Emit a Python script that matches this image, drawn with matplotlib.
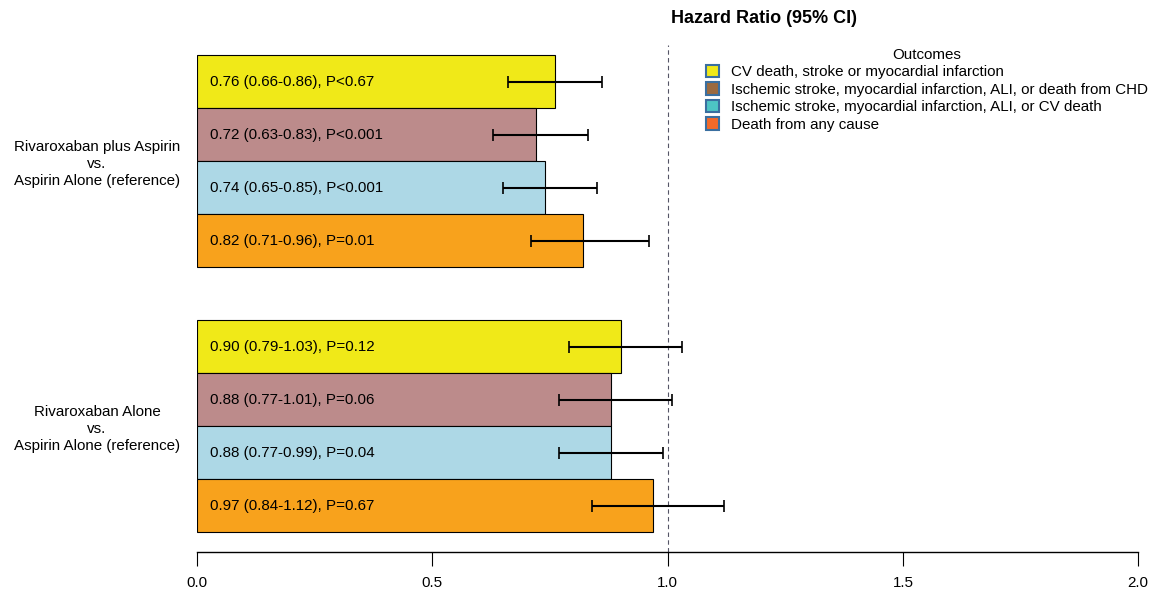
import numpy as np
import matplotlib.pyplot as plt
from matplotlib.patches import Patch

plt.rcParams['font.family'] = ['Liberation Sans', 'DejaVu Sans']

# 数据
groups = ['Rivaroxaban plus Aspirin\nvs.\nAspirin Alone (reference)',
          'Rivaroxaban Alone\nvs.\nAspirin Alone (reference)']
outcomes = ['CV death, stroke or myocardial infarction',
            'Ischemic stroke, myocardial infarction, ALI, or death from CHD',
            'Ischemic stroke, myocardial infarction, ALI, or CV death',
            'Death from any cause']
hr = [[0.76, 0.72, 0.74, 0.82],
      [0.90, 0.88, 0.88, 0.97]]
lo = [[0.66, 0.63, 0.65, 0.71],
      [0.79, 0.77, 0.77, 0.84]]
hi = [[0.86, 0.83, 0.85, 0.96],
      [1.03, 1.01, 0.99, 1.12]]
labels = [['0.76 (0.66-0.86), P<0.67', '0.72 (0.63-0.83), P<0.001',
           '0.74 (0.65-0.85), P<0.001', '0.82 (0.71-0.96), P=0.01'],
          ['0.90 (0.79-1.03), P=0.12', '0.88 (0.77-1.01), P=0.06',
           '0.88 (0.77-0.99), P=0.04', '0.97 (0.84-1.12), P=0.67']]

bar_colors = ['#f0e918', '#bc8b8b', '#add8e6', '#f8a21c']
legend_colors = ['#f0e918', '#9b6a3f', '#4dc4c4', '#f26a2a']

fig = plt.figure(figsize=(11.52, 5.92), dpi=100)
ax = fig.add_axes([0.171, 0.0676, 0.817, 0.857])

for g in range(2):
    for i in range(4):
        y = g * 5 + i
        ax.barh(y, hr[g][i], height=1.0, color=bar_colors[i],
                edgecolor='black', linewidth=0.8, zorder=2)
        ax.errorbar(hr[g][i], y, xerr=[[hr[g][i] - lo[g][i]], [hi[g][i] - hr[g][i]]],
                    fmt='none', ecolor='black', elinewidth=1.5, capsize=4.5,
                    capthick=1.2, zorder=3)
        ax.text(0.028, y, labels[g][i], va='center', ha='left', fontsize=10.9, zorder=4)

ax.axvline(1.0, color='#555566', linestyle=(0, (4, 3)), linewidth=0.8, zorder=1,
           ymin=0, ymax=1.0)

ax.set_xlim(0, 2)
ax.set_ylim(8.877, -0.696)
ax.set_xticks([0, 0.5, 1.0, 1.5, 2.0])
ax.set_xticklabels(['0.0', '0.5', '1.0', '1.5', '2.0'], fontsize=10.9)
ax.tick_params(axis='x', length=10, width=0.8, pad=7)
ax.set_yticks([1.5, 6.5])
ax.set_yticklabels(groups, fontsize=10.9, ha='center', multialignment='center',
                   linespacing=1.3)
ax.tick_params(axis='y', length=0, pad=72)
for s in ['top', 'right', 'left']:
    ax.spines[s].set_visible(False)
ax.spines['bottom'].set_linewidth(1.0)

fig.text(0.663, 0.968, 'Hazard Ratio (95% CI)', ha='center', va='center',
         fontsize=13, fontweight='bold')

handles = [Patch(facecolor=c, edgecolor='#3a6fa0', linewidth=1.5) for c in legend_colors]
leg = fig.legend(handles, outcomes, title='Outcomes', loc='upper left',
                 bbox_to_anchor=(0.606, 0.932), frameon=False, fontsize=10.9,
                 title_fontsize=10.9, handlelength=0.9, handleheight=0.9,
                 handletextpad=0.75, labelspacing=0.2, borderpad=0)

fig.savefig('out.png', dpi=100)
